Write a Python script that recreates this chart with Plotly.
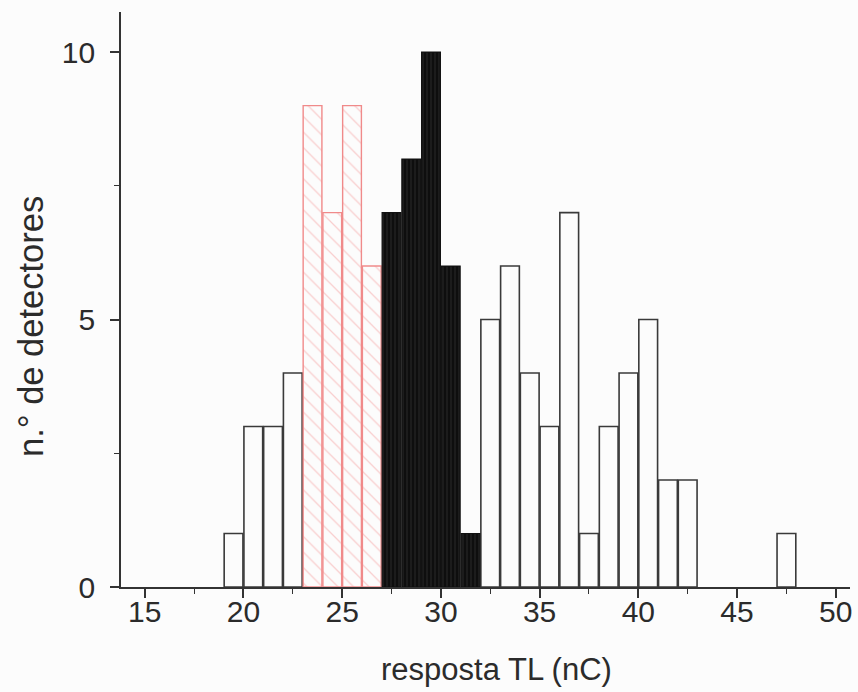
import plotly.graph_objects as go

# bin start values (nC) and detector counts
white_bins = [19, 20, 21, 22, 32, 33, 34, 35, 36, 37, 38, 39, 40, 41, 42, 47]
white_counts = [1, 3, 3, 4, 5, 6, 4, 3, 7, 1, 3, 4, 5, 2, 2, 1]
red_bins = [23, 24, 25, 26]
red_counts = [9, 7, 9, 6]
black_bins = [27, 28, 29, 30, 31]
black_counts = [7, 8, 10, 6, 1]

x_ticks = [15, 20, 25, 30, 35, 40, 45, 50]
y_ticks = [0, 5, 10]

FONT = "Liberation Sans, Arial, sans-serif"
TXT = "#2b2b2b"
BW = 0.95
OFF = (1 - BW) / 2
BG = "#fcfcfc"

fig = go.Figure()
fig.add_trace(go.Bar(
    x=white_bins, y=white_counts, width=BW, offset=OFF,
    marker=dict(color=BG, line=dict(color="#3a3a3a", width=1.6)),
))
fig.add_trace(go.Bar(
    x=red_bins, y=red_counts, width=BW, offset=OFF,
    marker=dict(color=BG, line=dict(color="#f08a8a", width=1.4),
                pattern=dict(shape="\\", fgcolor="#f4a0a0", bgcolor=BG,
                             size=11, solidity=0.12)),
))
fig.add_trace(go.Bar(
    x=black_bins, y=black_counts, width=BW, offset=OFF,
    marker=dict(color="#111111", line=dict(color="#111111", width=1.2),
                pattern=dict(shape="|", fgcolor="#3a3a3a", bgcolor="#0e0e0e",
                             size=4, solidity=0.3)),
))

fig.update_layout(
    width=858, height=692,
    margin=dict(l=121, r=8, t=12, b=105),
    paper_bgcolor=BG, plot_bgcolor=BG,
    showlegend=False, barmode="overlay",
    font=dict(family=FONT, color=TXT, size=30),
    xaxis=dict(
        range=[13.8, 50.72], tickvals=x_ticks, ticktext=[str(v) for v in x_ticks],
        automargin=False, ticklabeloverflow="allow",
        showgrid=False, zeroline=False, showline=True, linecolor="#333333", linewidth=1.6,
        ticks="outside", ticklen=9, tickwidth=1.6, tickcolor="#333333",
        minor=dict(dtick=2.5, tick0=0, ticks="outside", ticklen=5, tickwidth=1.4, tickcolor="#333333"),
        tickfont=dict(family=FONT, size=30, color=TXT),
        ticklabelstandoff=-12,
    ),
    yaxis=dict(
        range=[0, 10.75], tickvals=y_ticks, ticktext=[str(v) for v in y_ticks],
        automargin=False,
        showgrid=False, zeroline=False, showline=True, linecolor="#333333", linewidth=1.6,
        ticks="outside", ticklen=9, tickwidth=1.6, tickcolor="#333333",
        minor=dict(dtick=2.5, tick0=0, ticks="outside", ticklen=5, tickwidth=1.4, tickcolor="#333333"),
        tickfont=dict(family=FONT, size=30, color=TXT),
        ticklabelstandoff=9,
    ),
    annotations=[
        dict(text="resposta TL (nC)", xref="paper", yref="paper",
             x=(497 - 121) / 729, y=(587 - 669) / 575, xanchor="center", yanchor="middle",
             showarrow=False, font=dict(family=FONT, size=31, color=TXT)),
        dict(text="n.° de detectores", xref="paper", yref="paper", textangle=-90,
             x=(31 - 121) / 729, y=(587 - 327) / 575, xanchor="center", yanchor="middle",
             showarrow=False, font=dict(family=FONT, size=34.5, color=TXT)),
    ],
)

# remove the page's default 8px body margin so the figure fills the window exactly
fig.write_html("out.html", config={"displayModeBar": False},
               post_script="document.body.style.margin='0';")
